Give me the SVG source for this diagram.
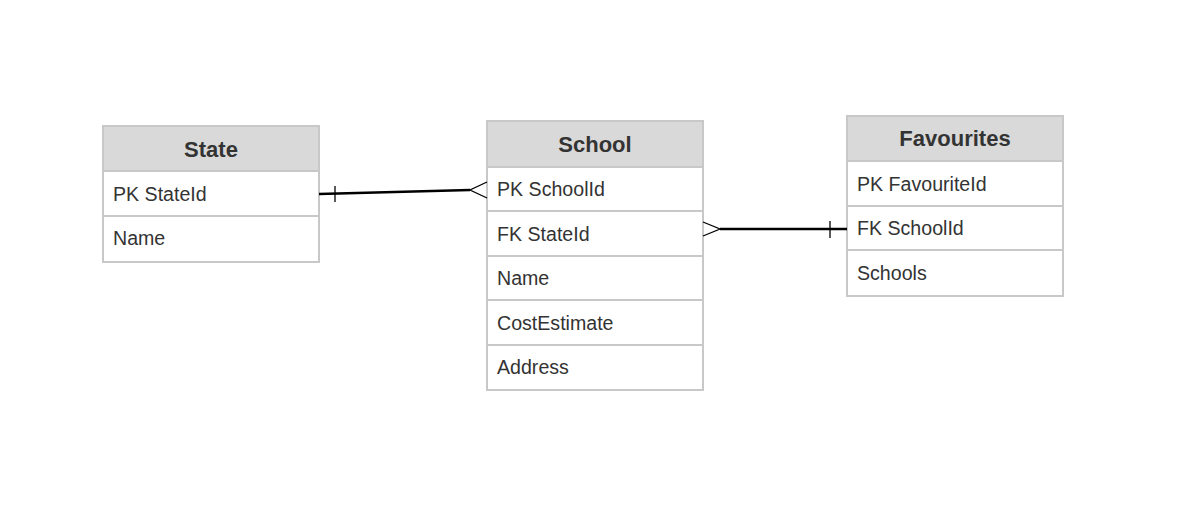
<svg xmlns="http://www.w3.org/2000/svg" width="1192" height="514" viewBox="0 0 1192 514">
<style>
.hd{fill:#d9d9d9;stroke:#c8c8c8;stroke-width:2}
.rw{fill:#fff;stroke:#c8c8c8;stroke-width:2}
.ht{font-family:"Liberation Sans",Arial,sans-serif;font-size:22px;font-weight:bold;fill:#333;text-anchor:middle}
.t{font-family:"Liberation Sans",Arial,sans-serif;font-size:19.6px;fill:#333}
.ln{stroke:#000;stroke-width:2.5;fill:none}
.th{stroke:#000;stroke-width:1.3;fill:none}
</style>
<rect width="1192" height="514" fill="#fff"/>
<g id="state">
<rect class="hd" x="103" y="126" width="216" height="45"/>
<rect class="rw" x="103" y="171" width="216" height="45"/>
<rect class="rw" x="103" y="216" width="216" height="46"/>
<text class="ht" x="211" y="157">State</text>
<text class="t" x="113" y="201">PK StateId</text>
<text class="t" x="113" y="245">Name</text>
</g>
<g id="school">
<rect class="hd" x="487" y="121" width="216" height="46"/>
<rect class="rw" x="487" y="167" width="216" height="44"/>
<rect class="rw" x="487" y="211" width="216" height="45"/>
<rect class="rw" x="487" y="256" width="216" height="44"/>
<rect class="rw" x="487" y="300" width="216" height="45"/>
<rect class="rw" x="487" y="345" width="216" height="45"/>
<text class="ht" x="595" y="152">School</text>
<text class="t" x="497" y="196">PK SchoolId</text>
<text class="t" x="497" y="241">FK StateId</text>
<text class="t" x="497" y="285">Name</text>
<text class="t" x="497" y="330">CostEstimate</text>
<text class="t" x="497" y="374">Address</text>
</g>
<g id="favourites">
<rect class="hd" x="847" y="116" width="216" height="45"/>
<rect class="rw" x="847" y="161" width="216" height="45"/>
<rect class="rw" x="847" y="206" width="216" height="44"/>
<rect class="rw" x="847" y="250" width="216" height="46"/>
<text class="ht" x="955" y="146">Favourites</text>
<text class="t" x="857" y="191">PK FavouriteId</text>
<text class="t" x="857" y="235">FK SchoolId</text>
<text class="t" x="857" y="280">Schools</text>
</g>
<g id="connectors">
<path class="ln" d="M319,194 L470,190"/>
<path class="th" d="M335,186 V202"/>
<path class="th" d="M487,182 L470,190 L487,198"/>
<path class="ln" d="M720,229 L847,229"/>
<path class="th" d="M830,221 V238"/>
<path class="th" d="M703,222 L720,229 L703,236"/>
</g>
</svg>
